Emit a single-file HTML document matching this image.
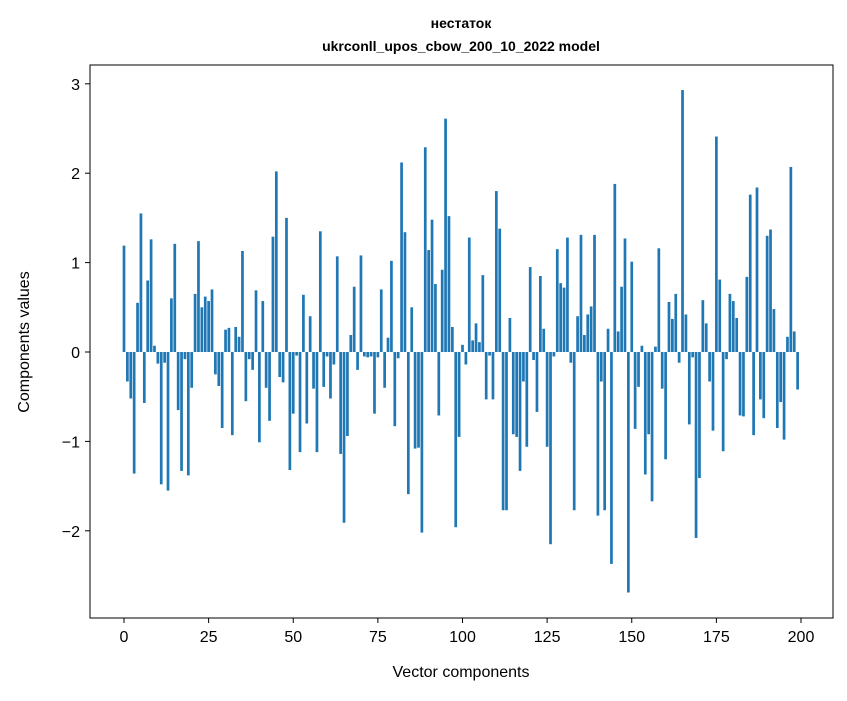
<!DOCTYPE html>
<html><head><meta charset="utf-8"><style>
body{margin:0;background:#fff;}
svg text{font-family:"Liberation Sans","DejaVu Sans",sans-serif;fill:#000;}
</style></head><body>
<svg id="chart" width="847" height="696">
<text x="461" y="28" text-anchor="middle" font-size="14" font-weight="bold">нестаток</text>
<text x="461" y="51" text-anchor="middle" font-size="14" font-weight="bold">ukrconll_upos_cbow_200_10_2022 model</text>
<g id="bars"></g>
<rect x="90" y="65" width="743" height="553" fill="none" stroke="#000" stroke-width="1"/>
<g id="xticks"></g>
<g id="yticks"></g>
<text x="461" y="677" text-anchor="middle" font-size="16">Vector components</text>
<text transform="translate(29,342) rotate(-90)" text-anchor="middle" font-size="16">Components values</text>
</svg>
<script>
const values=[1.19,-0.33,-0.52,-1.36,0.55,1.55,-0.57,0.80,1.26,0.07,-0.13,-1.48,-0.12,-1.55,0.60,1.21,-0.65,-1.33,-0.08,-1.38,
-0.40,0.65,1.24,0.50,0.62,0.57,0.70,-0.25,-0.38,-0.85,0.25,0.27,-0.93,0.28,0.17,1.13,-0.55,-0.08,-0.20,0.69,
-1.01,0.57,-0.40,-0.77,1.29,2.02,-0.28,-0.34,1.50,-1.32,-0.69,-0.04,-1.12,0.64,-0.80,0.40,-0.41,-1.12,1.35,-0.39,
-0.05,-0.52,-0.14,1.07,-1.14,-1.91,-0.94,0.19,0.73,-0.20,1.08,-0.05,-0.06,-0.05,-0.69,-0.06,0.70,-0.40,0.16,1.02,-0.83,
-0.07,2.12,1.34,-1.59,0.50,-1.08,-1.07,-2.02,2.29,1.14,1.48,0.76,-0.71,0.92,2.61,1.52,0.28,-1.96,-0.95,0.08,
-0.14,1.28,0.13,0.32,0.11,0.86,-0.53,-0.04,-0.53,1.80,1.38,-1.77,-1.77,0.38,-0.92,-0.95,-1.33,-0.33,-1.06,0.95,
-0.09,-0.67,0.85,0.26,-1.06,-2.15,-0.05,1.15,0.77,0.72,1.28,-0.12,-1.77,0.40,1.31,0.19,0.42,0.51,1.31,-1.83,
-0.33,-1.77,0.26,-2.37,1.88,0.23,0.73,1.27,-2.69,1.01,-0.86,-0.39,0.07,-1.37,-0.92,-1.67,0.06,1.16,-0.41,-1.20,
0.56,0.37,0.65,-0.12,2.93,0.42,-0.81,-0.06,-2.08,-1.41,0.58,0.32,-0.33,-0.88,2.41,0.81,-1.11,-0.08,0.65,0.57,
0.38,-0.71,-0.72,0.84,1.76,-0.93,1.84,-0.53,-0.74,1.30,1.37,0.48,-0.85,-0.56,-0.98,0.17,2.07,0.23,-0.42];
const xTickLabels=[0,25,50,75,100,125,150,175,200];
const yTickLabels=[-2,-1,0,1,2,3];
const NS="http://www.w3.org/2000/svg";
function xs(v){return 124+v*(801-124)/200;}
function ys(v){return 352-v*89.4;}
const bars=document.getElementById('bars');
values.forEach((v,i)=>{
  const r=document.createElementNS(NS,'rect');
  const w=0.8*(801-124)/200;
  r.setAttribute('x',xs(i)-w/2);
  r.setAttribute('width',w);
  r.setAttribute('y',Math.min(ys(v),ys(0)));
  r.setAttribute('height',Math.abs(ys(v)-ys(0)));
  r.setAttribute('fill','#1f77b4');
  
  
  bars.appendChild(r);
});
const xt=document.getElementById('xticks');
xTickLabels.forEach(t=>{
  const l=document.createElementNS(NS,'line');
  l.setAttribute('x1',xs(t));l.setAttribute('x2',xs(t));l.setAttribute('y1',618);l.setAttribute('y2',623);l.setAttribute('stroke','#000');
  
  
  xt.appendChild(l);
  const tx=document.createElementNS(NS,'text');
  tx.setAttribute('x',xs(t));tx.setAttribute('y',642);tx.setAttribute('text-anchor','middle');tx.setAttribute('font-size','16');
  tx.textContent=t;
  
  
  xt.appendChild(tx);
});
const yt=document.getElementById('yticks');
yTickLabels.forEach(t=>{
  const l=document.createElementNS(NS,'line');
  l.setAttribute('x1',85);l.setAttribute('x2',90);l.setAttribute('y1',ys(t));l.setAttribute('y2',ys(t));l.setAttribute('stroke','#000');
  
  
  yt.appendChild(l);
  const tx=document.createElementNS(NS,'text');
  tx.setAttribute('x',80);tx.setAttribute('y',ys(t)+6);tx.setAttribute('text-anchor','end');tx.setAttribute('font-size','16');
  tx.textContent=t<0?'\u2212'+Math.abs(t):String(t);
  
  
  yt.appendChild(tx);
});
</script>
</body></html>
